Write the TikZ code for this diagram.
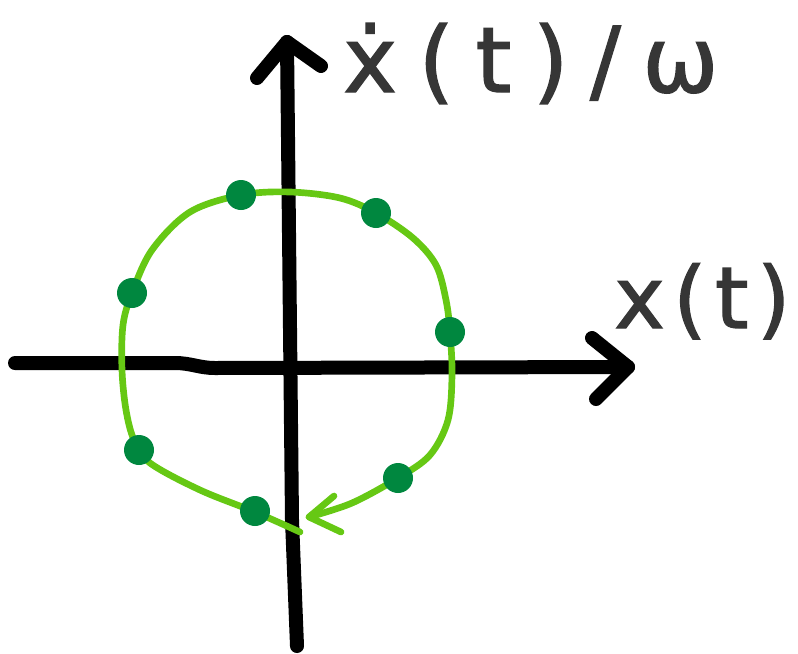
\documentclass[tikz,border=0pt]{standalone}
\usepackage{fontspec}
\newfontfamily\handA[LetterSpace=24,FakeBold=1.6]{DejaVu Sans}
\newfontfamily\handB[LetterSpace=10,FakeBold=1.6]{DejaVu Sans}
\definecolor{curvegreen}{HTML}{66C814}
\definecolor{dotgreen}{HTML}{00873F}
\definecolor{inkgray}{HTML}{363636}
\begin{document}
\begin{tikzpicture}[x=0.75pt,y=-0.75pt,
  axis/.style={line width=10.5pt,line cap=round,line join=round,draw=black},
  orbit/.style={line width=5pt,line cap=round,line join=round,draw=curvegreen},
  pt/.style={circle,fill=dotgreen,inner sep=0pt,minimum size=22.5pt},
  lbl/.style={anchor=base west,inner sep=0pt,text=inkgray}]
\useasboundingbox (0,0) rectangle (798,653);
% axes
\coordinate (hL) at (15,363);
\coordinate (hM1) at (175,363);
\coordinate (hM2) at (215,368);
\coordinate (hR) at (628,367);
\coordinate (hU) at (592,338);
\coordinate (hD) at (596,399);
\draw[axis] (hL) -- (hM1) to[out=0,in=180] (hM2) -- (hR);
\draw[axis] (hU) -- (hR) -- (hD);
\coordinate (vB) at (297,646);
\coordinate (vM) at (292,520);
\coordinate (vT) at (287,42);
\coordinate (vL) at (257,78);
\coordinate (vRr) at (321,66);
\draw[axis] (vB) -- (vM) -- (vT);
\draw[axis] (vL) -- (vT) -- (vRr);
% orbit
\coordinate (cS) at (300,532);
\coordinate (cTip) at (309,517);
\draw[orbit] plot[smooth,tension=0.55] coordinates {
 (300,532) (255,512) (200,490) (150,463) (134,440) (126,410) (122,370) (123,325)
 (132,293) (152,250) (190,212) (241,195) (290,192) (340,198) (376,213) (413,238)
 (436,265) (446,300) (450,332) (452,375) (448,420) (430,455) (398,478) (352,503) (309,517)};
\coordinate (aU) at (334,496);
\coordinate (aD) at (341,532);
\draw[orbit] (aU) -- (cTip) -- (aD);
% points
\node[pt] (d1) at (241,195) {};
\node[pt] (d2) at (376,213) {};
\node[pt] (d3) at (132,293) {};
\node[pt] (d4) at (450,332) {};
\node[pt] (d5) at (139,450) {};
\node[pt] (d6) at (398,478) {};
\node[pt] (d7) at (255,511) {};
% labels
\node[lbl,font=\handA\fontsize{68}{68}\selectfont] (ylabel) at (343,92) {ẋ(t)/ω};
\node[lbl,font=\handB\fontsize{64}{64}\selectfont] (xlabel) at (614,328) {x(t)};
\end{tikzpicture}
\end{document}
